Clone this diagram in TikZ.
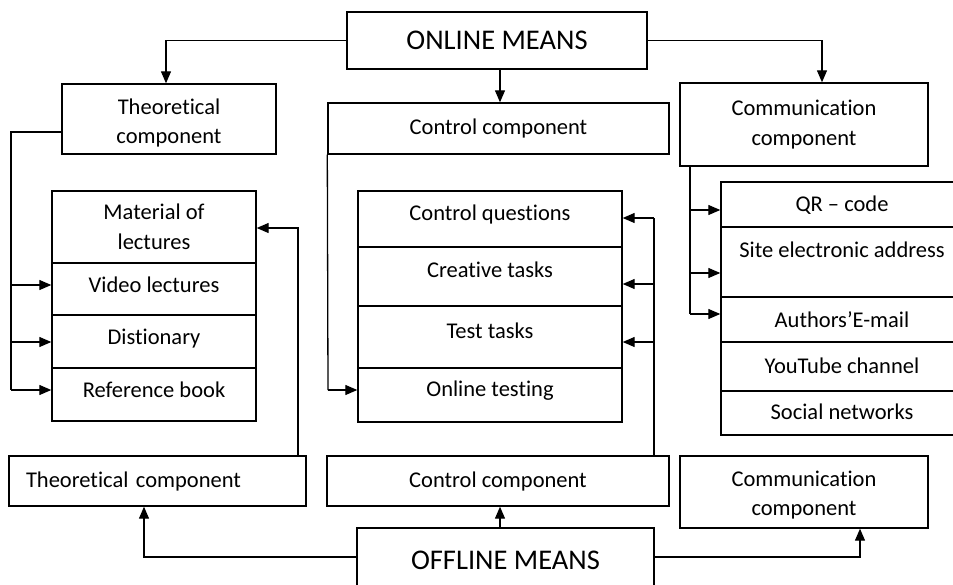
\documentclass[tikz,border=0pt]{standalone}
\usepackage{fontspec}
\setmainfont[Ligatures=NoCommon]{Carlito}
\usetikzlibrary{arrows.meta}
\newcommand\dgbody{\fontsize{22.5}{29.5}\selectfont}
\newcommand\dgtitle{\fontsize{28.5}{34}\selectfont}
\begin{document}
\begin{tikzpicture}[x=1pt,y=-1pt,
  box/.style={draw, line width=1.4pt, inner sep=0pt, align=center, font=\dgbody},
  tx/.style={text height=16pt, text depth=#1},
  ln/.style={line width=1.3pt},
  arr/.style={line width=1.3pt, -{Triangle[length=12pt,width=10pt]}}]
\useasboundingbox (0,0) rectangle (953,584);
\clip (0,0) rectangle (953,584);

% ---------- online part ----------
\node[box, font=\dgtitle, minimum width=300pt, minimum height=57pt] (online) at (497,40.5) {ONLINE MEANS};
\node[box, minimum width=214pt, minimum height=70pt] (theo) at (169,119) {\rule{0pt}{24pt}Theoretical\\component};
\node[box, minimum width=341pt, minimum height=51pt] (ctrl) at (498.5,128.5) {Control component};
\node[box, minimum width=248pt, minimum height=83pt] (comm) at (804,124.5) {Communication\\component};

% theoretical stack
\node[box, minimum width=204pt, minimum height=72pt] (mat) at (154,227) {Material of\\lectures};
\node[box, tx=10pt, minimum width=204pt, minimum height=52pt] (video) at (154,289) {Video lectures};
\node[box, tx=10pt, minimum width=204pt, minimum height=53pt] (dict) at (154,341.5) {Distionary};
\node[box, tx=10pt, minimum width=204pt, minimum height=53pt] (ref) at (154,394.5) {Reference book};

% control stack
\node[box, tx=14pt, minimum width=264pt, minimum height=56pt] (cq) at (490,219) {Control questions};
\node[box, tx=14pt, minimum width=264pt, minimum height=59pt] (ct) at (490,276.5) {Creative tasks};
\node[box, tx=14pt, minimum width=264pt, minimum height=62pt] (tt) at (490,337) {Test tasks};
\node[box, tx=14pt, minimum width=264pt, minimum height=54pt] (ot) at (490,395) {Online testing};

% communication stack
\node[box, tx=2pt, minimum width=242pt, minimum height=45pt] (qr) at (842,204.5) {QR -- code};
\node[box, tx=26pt, minimum width=242pt, minimum height=70pt] (site) at (842,262) {Site electronic address};
\node[box, tx=0pt, minimum width=242pt, minimum height=45pt] (auth) at (842,319.5) {Authors’E-mail};
\node[box, tx=3pt, minimum width=242pt, minimum height=49pt] (yt) at (842,366.5) {YouTube channel};
\node[box, tx=3pt, minimum width=242pt, minimum height=44pt] (soc) at (842,413) {Social networks};

% ---------- offline part ----------
\node[box, align=left, inner xsep=17pt, text width=263pt, minimum height=50pt] (theoB) at (157.5,481) {Theoretical component};
\node[box, minimum width=342pt, minimum height=50pt] (ctrlB) at (498,481) {Control component};
\node[box, minimum width=248pt, minimum height=72pt] (commB) at (804,492) {\rule{0pt}{22pt}Communication\\component};
\node[box, font=\dgtitle, minimum width=297pt, minimum height=64pt] (offline) at (505.5,560) {OFFLINE MEANS};

% ---------- connectors from ONLINE MEANS ----------
\draw[arr] (online.west) -| ([xshift=-3pt]theo.north);
\draw[arr] ([xshift=3pt]online.south) -- ([xshift=3pt]online.south |- ctrl.north);
\draw[arr] (online.east) -| ([xshift=18pt]comm.north);

% theoretical trunk
\coordinate (tv) at (11,285);
\coordinate (td) at (11,342);
\coordinate (tr) at (11,390);
\draw[ln] ([yshift=-13pt]theo.west) -| (tr);
\draw[arr] (tv) -- (tv -| video.west);
\draw[arr] (td) -- (td -| dict.west);
\draw[arr] (tr) -- (tr -| ref.west);

% control trunk
\coordinate (cr) at (328,390);
\draw[ln] (ctrl.south west) -- (cr);
\draw[arr] (cr) -- (cr -| ot.west);

% communication trunk
\coordinate (k1) at (690,210);
\coordinate (k2) at (690,273);
\coordinate (k3) at (690,314);
\draw[ln] (k1 |- comm.south) -- (k3);
\draw[arr] (k1) -- (k1 -| qr.west);
\draw[arr] (k2) -- (k2 -| site.west);
\draw[arr] (k3) -- (k3 -| auth.west);

% ---------- connectors from the offline boxes ----------
\coordinate (m1) at (298,228);
\draw[arr] (m1 |- theoB.north) -- (m1) -- (m1 -| mat.east);

\coordinate (r1) at (654,218);
\coordinate (r2) at (654,284);
\coordinate (r3) at (654,342);
\draw[ln] (r1 |- ctrlB.north) -- (r1);
\draw[arr] (r1) -- (r1 -| cq.east);
\draw[arr] (r2) -- (r2 -| ct.east);
\draw[arr] (r3) -- (r3 -| tt.east);

% ---------- connectors from OFFLINE MEANS ----------
\draw[arr] ([yshift=3pt]offline.west) -| ([xshift=-13.5pt]theoB.south);
\draw[arr] ([xshift=-5.5pt]offline.north) -- ([xshift=-5.5pt]offline.north |- ctrlB.south);
\draw[arr] ([yshift=3pt]offline.east) -| ([xshift=56pt]commB.south);
\end{tikzpicture}
\end{document}
